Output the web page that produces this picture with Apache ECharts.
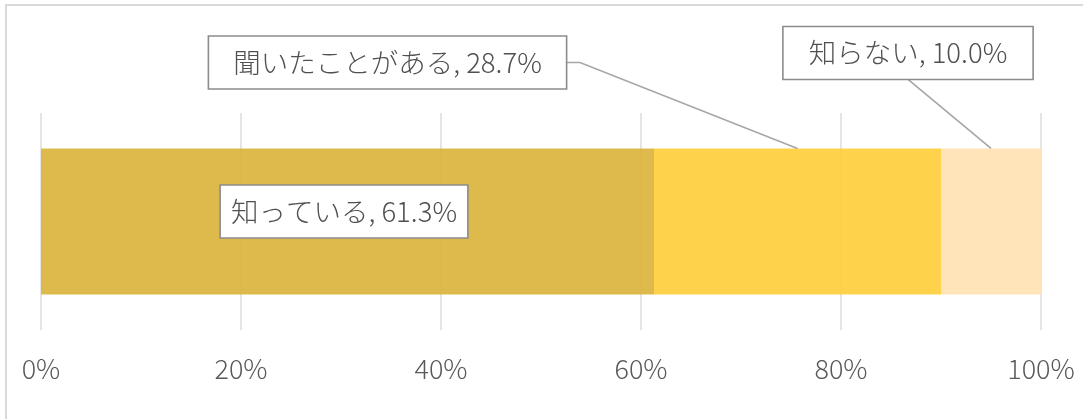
<!DOCTYPE html>
<html>
<head>
<meta charset="utf-8">
<script src="https://cdn.jsdelivr.net/npm/echarts@6/dist/echarts.min.js"></script>
<style>
  html, body { margin: 0; padding: 0; background: #ffffff; }
  #chart { width: 1083px; height: 419px; }
</style>
</head>
<body>
<div id="chart"></div>
<script>
// Awareness shares (percent), stacked left to right
const categories = ['知っている', '聞いたことがある', '知らない'];
const shares = [61.3, 28.7, 10.0];
const tickLabels = ['0%', '20%', '40%', '60%', '80%', '100%'];

// Base fills; bars are slightly translucent so the gridlines show through
const colors = ['#DAB23A', '#FFCD37', '#FFE0B1'];
const BAR_OPACITY = 0.9;
const FONT = '"Noto Sans CJK JP", "Noto Sans", sans-serif';

// Callout placement per segment, relative to the segment's anchor point
// anchor: 'center' = middle of the segment, 'top' = top edge centre
const callouts = [
  { anchor: 'center', box: [-3.5, -10], path: [], padding: [12, 10, 12, 10] },
  { anchor: 'top', box: [-410, -86], path: [[-217.5, -86]], padding: [12, 24, 12, 24] },
  { anchor: 'top', box: [-83, -95.5], path: [[-83, -69]], padding: [12, 25, 12, 25] }
];

const starts = shares.map((v, i) => shares.slice(0, i).reduce((a, b) => a + b, 0));
const BAR_RATIO = 0.673;

const barSeries = categories.map((name, i) => ({
  name: name,
  type: 'bar',
  stack: 'total',
  barWidth: (BAR_RATIO * 100) + '%',
  data: [shares[i]],
  itemStyle: { color: colors[i], opacity: BAR_OPACITY },
  silent: true,
  z: 2
}));

const calloutSeries = {
  type: 'custom',
  coordinateSystem: 'cartesian2d',
  clip: false,
  silent: true,
  z: 10,
  encode: { x: 0, y: 3 },
  data: shares.map((v, i) => [starts[i], v, i, 0]),
  renderItem: function (params, api) {
    const start = api.value(0);
    const val = api.value(1);
    const idx = api.value(2);
    const c = callouts[idx];
    const mid = api.coord([start + val / 2, 0]);
    const halfBar = api.size([0, 1])[1] * BAR_RATIO / 2;
    const ax = mid[0];
    const ay = c.anchor === 'top' ? mid[1] - halfBar : mid[1];
    const bx = ax + c.box[0];
    const by = ay + c.box[1];
    const children = [];
    if (c.anchor === 'top') {
      const pts = [[bx, by]].concat(c.path.map(p => [ax + p[0], ay + p[1]])).concat([[ax, ay]]);
      children.push({
        type: 'polyline',
        shape: { points: pts },
        style: { stroke: '#A6A6A6', lineWidth: 1.6, fill: null }
      });
    }
    children.push({
      type: 'text',
      x: bx,
      y: by,
      style: {
        text: categories[idx] + ', ' + val.toFixed(1) + '%',
        align: 'center',
        verticalAlign: 'middle',
        font: '300 27.5px ' + FONT,
        fill: '#505050',
        backgroundColor: '#ffffff',
        borderColor: '#8C8C8C',
        borderWidth: 1.6,
        padding: c.padding
      }
    });
    return { type: 'group', children: children };
  }
};

const chart = echarts.init(document.getElementById('chart'), null, { renderer: 'canvas' });
chart.setOption({
  animation: false,
  backgroundColor: '#ffffff',
  textStyle: { fontFamily: FONT },
  graphic: [{
    type: 'rect',
    shape: { x: 6, y: 5, width: 1200, height: 600 },
    style: { fill: null, stroke: '#D9D9D9', lineWidth: 2 },
    silent: true
  }],
  grid: { left: 41, right: 42, top: 113, height: 217, containLabel: false },
  xAxis: {
    type: 'value',
    min: 0,
    max: 100,
    interval: 20,
    axisLine: { show: false },
    axisTick: { show: false },
    splitLine: { show: true, lineStyle: { color: '#DDDDDD', width: 1.5 } },
    axisLabel: {
      margin: 25,
      fontSize: 27,
      fontWeight: 300,
      color: '#595959',
      fontFamily: FONT,
      formatter: function (v) { return tickLabels[Math.round(v / 20)]; }
    }
  },
  yAxis: {
    type: 'category',
    data: ['認知度'],
    axisLine: { show: false },
    axisTick: { show: false },
    axisLabel: { show: false },
    splitLine: { show: false }
  },
  series: barSeries.concat([calloutSeries])
});
</script>
</body>
</html>
